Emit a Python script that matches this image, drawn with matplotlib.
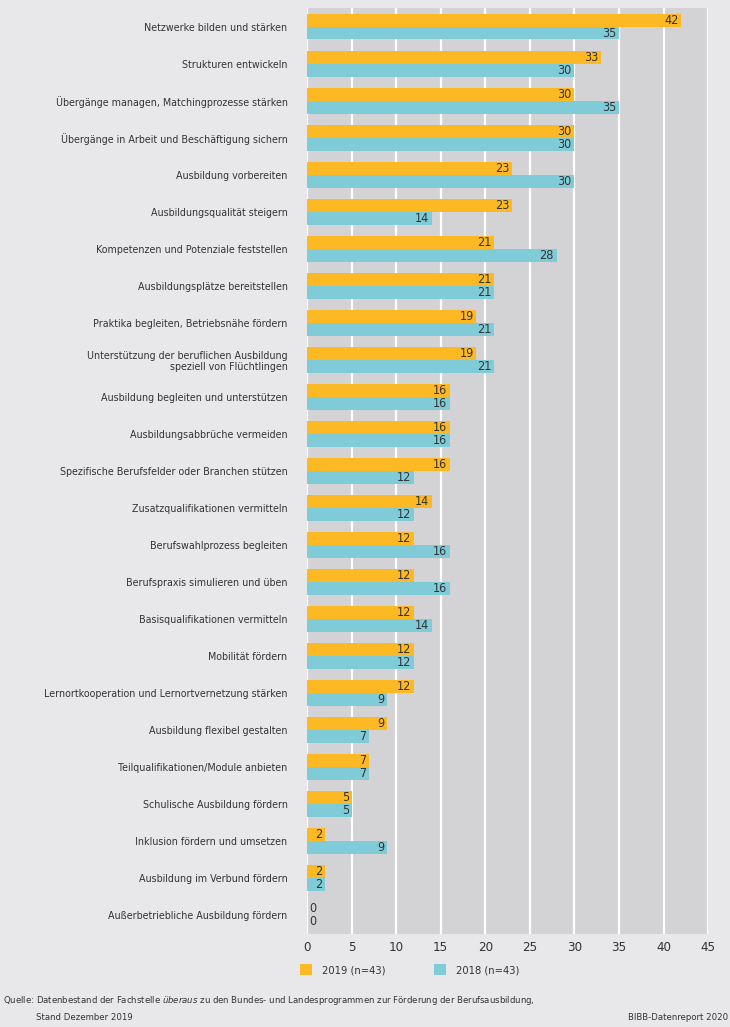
import matplotlib.pyplot as plt
import numpy as np

# narrow look like the original typeface
plt.rcParams["font.family"] = ["DejaVu Sans"]
plt.rcParams["font.stretch"] = "condensed"

categories = [
    "Netzwerke bilden und stärken",
    "Strukturen entwickeln",
    "Übergänge managen, Matchingprozesse stärken",
    "Übergänge in Arbeit und Beschäftigung sichern",
    "Ausbildung vorbereiten",
    "Ausbildungsqualität steigern",
    "Kompetenzen und Potenziale feststellen",
    "Ausbildungsplätze bereitstellen",
    "Praktika begleiten, Betriebsnähe fördern",
    "Unterstützung der beruflichen Ausbildung\nspeziell von Flüchtlingen",
    "Ausbildung begleiten und unterstützen",
    "Ausbildungsabbrüche vermeiden",
    "Spezifische Berufsfelder oder Branchen stützen",
    "Zusatzqualifikationen vermitteln",
    "Berufswahlprozess begleiten",
    "Berufspraxis simulieren und üben",
    "Basisqualifikationen vermitteln",
    "Mobilität fördern",
    "Lernortkooperation und Lernortvernetzung stärken",
    "Ausbildung flexibel gestalten",
    "Teilqualifikationen/Module anbieten",
    "Schulische Ausbildung fördern",
    "Inklusion fördern und umsetzen",
    "Ausbildung im Verbund fördern",
    "Außerbetriebliche Ausbildung fördern",
]
values_2019 = [42, 33, 30, 30, 23, 23, 21, 21, 19, 19, 16, 16, 16, 14, 12, 12, 12, 12, 12, 9, 7, 5, 2, 2, 0]
values_2018 = [35, 30, 35, 30, 30, 14, 28, 21, 21, 21, 16, 16, 12, 12, 16, 16, 14, 12, 9, 7, 7, 5, 9, 2, 0]
series_labels = ["2019 (n=43)", "2018 (n=43)"]
x_ticks = [0, 5, 10, 15, 20, 25, 30, 35, 40, 45]

orange = "#fdb924"
blue = "#80cbd8"
bg = "#e8e8ea"
panel = "#d3d3d5"
txt = "#333333"

fig = plt.figure(figsize=(7.3, 10.27), dpi=100)
fig.patch.set_facecolor(bg)
ax = fig.add_axes([0.4205, 0.0906, 0.5495, 0.9016])
ax.set_facecolor(panel)

y = np.arange(len(categories))
h = 0.35
ax.barh(y - h / 2, values_2019, height=h, color=orange, zorder=3, label=series_labels[0])
ax.barh(y + h / 2, values_2018, height=h, color=blue, zorder=3, label=series_labels[1])

for vals, off in ((values_2019, -h / 2), (values_2018, h / 2)):
    for yi, v in zip(y, vals):
        if v == 0:
            ax.text(0.3, yi + off, str(v), ha="left", va="center", fontsize=9, color=txt, zorder=4)
        else:
            ax.text(v - 0.3, yi + off, str(v), ha="right", va="center", fontsize=9, color=txt, zorder=4)

ax.set_xlim(0, 45)
ax.set_ylim(len(categories) - 0.5, -0.5)
ax.set_xticks(x_ticks)
ax.set_xticklabels([str(t) for t in x_ticks], fontsize=9.5, color=txt)
ax.set_yticks(y)
ax.set_yticklabels(categories, fontsize=7.7, color=txt, linespacing=1.1)
ax.tick_params(length=0, pad=5)
ax.tick_params(axis="y", pad=14)
ax.grid(axis="x", color="white", linewidth=1.6, zorder=1)
for s in ax.spines.values():
    s.set_visible(False)

ax.legend(loc="upper left", bbox_to_anchor=(-0.017, -0.032), ncol=2, frameon=False,
          fontsize=8, handlelength=1.1, handleheight=1.2, columnspacing=4.3,
          handletextpad=0.9, borderaxespad=0, borderpad=0, labelcolor=txt)

fig.text(0.004, 0.026, "Quelle: Datenbestand der Fachstelle $\\it{überaus}$ zu den Bundes- und Landesprogrammen zur Förderung der Berufsausbildung,",
         fontsize=6.8, color=txt, va="center")
fig.text(0.05, 0.009, "Stand Dezember 2019", fontsize=6.8, color=txt, va="center")
fig.text(0.997, 0.009, "BIBB-Datenreport 2020", fontsize=6.8, color=txt, va="center", ha="right")

fig.savefig("out.png", dpi=100, facecolor=bg)
